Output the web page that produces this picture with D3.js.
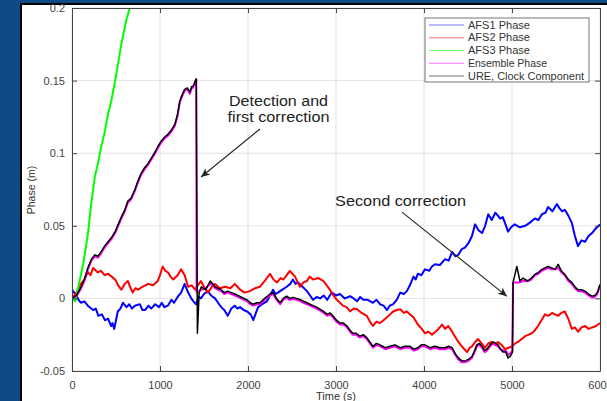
<!DOCTYPE html>
<html><head><meta charset="utf-8">
<script src="https://cdn.jsdelivr.net/npm/d3@7"></script>
<style>
html,body{margin:0;padding:0;background:#0e4a86;overflow:hidden}
svg{display:block}
text{font-family:"Liberation Sans",Arial,sans-serif}
</style></head>
<body>
<svg id="chart" width="607" height="401"></svg>
<script>
// ---- data ----
const xTicks = [0, 1000, 2000, 3000, 4000, 5000, 6000];
const xTickLabels = ["0", "1000", "2000", "3000", "4000", "5000", "6000"];
const yTicks = [-0.05, 0, 0.05, 0.1, 0.15, 0.2];
const yTickLabels = ["-0.05", "0", "0.05", "0.1", "0.15", "0.2"];
const seriesNames = ["AFS1 Phase", "AFS2 Phase", "AFS3 Phase", "Ensemble Phase", "URE, Clock Component"];
const seriesColors = ["#0000ff", "#ff0000", "#00ff00", "#ff00ff", "#000000"];

// [time (s), phase (m)]
const afs1 = [[0,0.006],[25,0.004],[50,0.002],[75,-0.001],[100,-0.003],[140,-0.002],[180,-0.005],[240,-0.008],[270,-0.007],[300,-0.012],[340,-0.011],[375,-0.015],[410,-0.014],[445,-0.019],[460,-0.017],[480,-0.021],[500,-0.015],[520,-0.009],[550,-0.007],[580,-0.003],[620,-0.006],[650,-0.004],[680,-0.007],[715,-0.005],[770,-0.004],[800,-0.008],[830,-0.008],[870,-0.005],[900,-0.007],[945,-0.004],[990,-0.006],[1020,-0.003],[1050,-0.006],[1090,-0.005],[1130,-0.001],[1160,-0.003],[1200,0.001],[1240,0.004],[1280,0.010],[1320,0.004],[1355,0.000],[1380,-0.002],[1410,-0.004],[1440,0.001],[1465,0.000],[1500,0.003],[1545,0.005],[1580,0.002],[1625,0.000],[1660,-0.003],[1695,-0.006],[1730,-0.008],[1770,-0.012],[1810,-0.007],[1850,-0.005],[1880,-0.007],[1910,-0.006],[1950,-0.008],[1990,-0.009],[2030,-0.011],[2060,-0.015],[2090,-0.010],[2115,-0.006],[2160,-0.004],[2215,-0.002],[2250,0.002],[2285,0.006],[2310,0.003],[2340,0.004],[2390,0.006],[2440,0.008],[2480,0.010],[2510,0.013],[2540,0.010],[2570,0.011],[2620,0.008],[2670,0.005],[2705,0.002],[2740,-0.001],[2780,0.001],[2820,0.000],[2860,0.002],[2900,-0.001],[2930,0.002],[2955,0.004],[3000,0.002],[3045,0.003],[3100,0.000],[3160,0.0015],[3200,0.000],[3240,-0.002],[3275,0.001],[3310,-0.001],[3360,-0.001],[3420,-0.003],[3460,-0.001],[3500,-0.004],[3540,-0.005],[3580,-0.008],[3610,-0.005],[3650,-0.004],[3690,-0.001],[3730,0.004],[3770,0.003],[3805,0.005],[3840,0.009],[3880,0.015],[3905,0.013],[3930,0.017],[3970,0.016],[4010,0.020],[4060,0.019],[4090,0.022],[4125,0.0235],[4180,0.023],[4240,0.027],[4280,0.026],[4320,0.032],[4355,0.029],[4390,0.030],[4430,0.034],[4465,0.035],[4505,0.038],[4545,0.043],[4580,0.051],[4620,0.047],[4660,0.045],[4695,0.050],[4730,0.058],[4770,0.054],[4810,0.059],[4840,0.057],[4865,0.055],[4895,0.056],[4920,0.052],[4955,0.046],[4990,0.049],[5030,0.051],[5090,0.049],[5150,0.050],[5200,0.052],[5260,0.055],[5300,0.054],[5340,0.058],[5380,0.059],[5410,0.063],[5460,0.060],[5510,0.065],[5540,0.062],[5570,0.060],[5600,0.061],[5640,0.057],[5680,0.052],[5715,0.043],[5750,0.036],[5790,0.040],[5830,0.039],[5870,0.043],[5910,0.045],[5950,0.048],[6000,0.051]];

const afs2 = [[0,0],[50,0.004],[100,0.010],[140,0.013],[180,0.018],[210,0.016],[240,0.021],[290,0.018],[330,0.019],[370,0.016],[410,0.017],[450,0.015],[490,0.013],[525,0.009],[560,0.006],[600,0.010],[635,0.012],[660,0.008],[690,0.004],[720,0.007],[750,0.006],[800,0.008],[865,0.010],[920,0.009],[975,0.012],[1000,0.016],[1030,0.022],[1060,0.019],[1090,0.018],[1120,0.015],[1150,0.013],[1200,0.016],[1240,0.020],[1280,0.016],[1320,0.008],[1360,0.009],[1400,0.006],[1430,0.009],[1465,0.012],[1500,0.008],[1545,0.004],[1590,0.008],[1625,0.010],[1680,0.007],[1740,0.008],[1800,0.007],[1850,0.010],[1880,0.008],[1910,0.006],[1960,0.004],[2020,0.005],[2080,0.007],[2135,0.008],[2190,0.012],[2250,0.017],[2290,0.013],[2330,0.011],[2370,0.014],[2400,0.013],[2440,0.016],[2475,0.019],[2505,0.017],[2535,0.015],[2565,0.011],[2590,0.008],[2630,0.011],[2670,0.012],[2700,0.015],[2740,0.013],[2800,0.014],[2855,0.012],[2895,0.009],[2930,0.006],[2970,0.002],[3010,-0.001],[3045,-0.003],[3080,-0.005],[3120,-0.006],[3160,-0.009],[3200,-0.007],[3240,-0.0075],[3290,-0.010],[3350,-0.012],[3385,-0.016],[3420,-0.019],[3460,-0.016],[3500,-0.017],[3540,-0.015],[3580,-0.013],[3615,-0.011],[3650,-0.009],[3690,-0.008],[3730,-0.0075],[3770,-0.010],[3805,-0.009],[3840,-0.011],[3880,-0.013],[3930,-0.018],[3975,-0.021],[4010,-0.024],[4050,-0.023],[4090,-0.025],[4150,-0.022],[4205,-0.018],[4240,-0.021],[4275,-0.019],[4310,-0.022],[4350,-0.026],[4390,-0.030],[4430,-0.033],[4460,-0.035],[4490,-0.037],[4520,-0.034],[4545,-0.033],[4580,-0.030],[4615,-0.028],[4655,-0.031],[4695,-0.034],[4730,-0.031],[4770,-0.030],[4805,-0.032],[4840,-0.030],[4880,-0.032],[4920,-0.035],[4960,-0.034],[5000,-0.033],[5035,-0.031],[5070,-0.030],[5110,-0.028],[5150,-0.026],[5190,-0.025],[5225,-0.024],[5260,-0.022],[5295,-0.019],[5335,-0.015],[5375,-0.011],[5415,-0.012],[5455,-0.010],[5490,-0.011],[5525,-0.012],[5560,-0.010],[5600,-0.009],[5640,-0.014],[5680,-0.021],[5715,-0.020],[5750,-0.023],[5790,-0.020],[5830,-0.019],[5870,-0.021],[5910,-0.020],[5955,-0.019],[6000,-0.017]];

const afs3 = [[0,0],[40,-0.002],[70,0.0075],[125,0.023],[180,0.044],[220,0.066],[260,0.084],[295,0.093],[330,0.104],[370,0.114],[410,0.127],[450,0.137],[490,0.150],[525,0.162],[560,0.175],[615,0.191],[660,0.201],[700,0.215]];

const ensemble = [[0,0],[50,0.0015],[100,0.0065],[140,0.012],[180,0.020],[220,0.026],[260,0.029],[295,0.028],[330,0.031],[370,0.035],[410,0.038],[450,0.041],[490,0.045],[525,0.050],[560,0.055],[600,0.060],[635,0.066],[670,0.068],[715,0.074],[750,0.080],[785,0.085],[825,0.089],[865,0.092],[905,0.096],[945,0.100],[980,0.104],[1010,0.107],[1050,0.110],[1090,0.112],[1130,0.115],[1170,0.119],[1200,0.126],[1225,0.135],[1250,0.139],[1280,0.143],[1310,0.144],[1340,0.141],[1360,0.145],[1375,0.145],[1395,0.148],[1412,0.151],[1416,0.004],[1445,0.005],[1470,0.006],[1520,0.007],[1570,0.010],[1600,0.009],[1625,0.007],[1660,0.006],[1695,0.005],[1730,0.003],[1770,0.004],[1810,0.003],[1850,0.002],[1885,0.001],[1920,0.000],[1955,-0.001],[1990,-0.002],[2025,-0.004],[2060,-0.005],[2100,-0.004],[2135,-0.004],[2190,-0.001],[2250,0.002],[2285,0.003],[2325,-0.001],[2365,-0.004],[2400,-0.001],[2440,0.0005],[2475,-0.001],[2510,-0.0003],[2550,-0.001],[2590,-0.0017],[2630,-0.003],[2670,-0.004],[2705,-0.005],[2740,-0.006],[2780,-0.007],[2820,-0.0085],[2860,-0.010],[2900,-0.012],[2930,-0.011],[2965,-0.013],[3005,-0.016],[3045,-0.018],[3085,-0.018],[3125,-0.020],[3160,-0.023],[3190,-0.025],[3230,-0.025],[3270,-0.027],[3310,-0.026],[3350,-0.028],[3385,-0.031],[3420,-0.034],[3460,-0.032],[3500,-0.033],[3560,-0.035],[3615,-0.034],[3670,-0.033],[3730,-0.035],[3785,-0.034],[3840,-0.034],[3885,-0.036],[3930,-0.035],[3970,-0.033],[4010,-0.033],[4070,-0.035],[4125,-0.034],[4180,-0.035],[4240,-0.035],[4280,-0.034],[4320,-0.035],[4355,-0.039],[4390,-0.042],[4430,-0.044],[4465,-0.044],[4505,-0.043],[4545,-0.041],[4575,-0.037],[4600,-0.033],[4630,-0.032],[4660,-0.034],[4690,-0.037],[4715,-0.036],[4750,-0.033],[4785,-0.031],[4815,-0.032],[4840,-0.033],[4870,-0.035],[4900,-0.036],[4930,-0.036],[4955,-0.039],[4980,-0.038],[5005,-0.036],[5012,0.011],[5055,0.011],[5090,0.011],[5125,0.012],[5150,0.012],[5180,0.012],[5220,0.013],[5260,0.016],[5300,0.017],[5340,0.019],[5375,0.020],[5410,0.021],[5450,0.020],[5490,0.020],[5525,0.021],[5560,0.018],[5600,0.016],[5640,0.012],[5680,0.010],[5715,0.007],[5750,0.005],[5790,0.005],[5830,0.004],[5870,0.002],[5910,0.0005],[5940,0.001],[5970,0.003],[6000,0.009]];

const ure = [[0,0],[50,0.002],[100,0.0075],[140,0.013],[180,0.021],[220,0.027],[260,0.030],[295,0.029],[330,0.032],[370,0.036],[410,0.039],[450,0.042],[490,0.046],[525,0.051],[560,0.056],[600,0.061],[635,0.067],[670,0.069],[715,0.075],[750,0.081],[785,0.086],[825,0.090],[865,0.093],[905,0.097],[945,0.101],[980,0.105],[1010,0.108],[1050,0.111],[1090,0.113],[1130,0.116],[1170,0.120],[1200,0.127],[1225,0.136],[1250,0.140],[1280,0.144],[1310,0.145],[1340,0.142],[1360,0.146],[1375,0.146],[1395,0.149],[1412,0.151],[1425,-0.024],[1445,0.004],[1470,0.008],[1520,0.006],[1570,0.012],[1600,0.010],[1625,0.008],[1660,0.007],[1695,0.006],[1730,0.004],[1770,0.005],[1810,0.004],[1850,0.003],[1885,0.002],[1920,0.001],[1955,0.000],[1990,-0.001],[2025,-0.003],[2060,-0.004],[2100,-0.003],[2135,-0.003],[2190,0.000],[2250,0.003],[2285,0.004],[2325,0.000],[2365,-0.003],[2400,0.000],[2440,0.0015],[2475,0.000],[2510,0.0007],[2550,0.000],[2590,-0.0007],[2630,-0.002],[2670,-0.003],[2705,-0.004],[2740,-0.005],[2780,-0.006],[2820,-0.0075],[2860,-0.009],[2900,-0.011],[2930,-0.010],[2965,-0.012],[3005,-0.015],[3045,-0.017],[3085,-0.017],[3125,-0.019],[3160,-0.022],[3190,-0.024],[3230,-0.024],[3270,-0.026],[3310,-0.025],[3350,-0.027],[3385,-0.030],[3420,-0.033],[3460,-0.031],[3500,-0.032],[3560,-0.034],[3615,-0.033],[3670,-0.032],[3730,-0.034],[3785,-0.033],[3840,-0.033],[3885,-0.035],[3930,-0.034],[3970,-0.032],[4010,-0.032],[4070,-0.034],[4125,-0.033],[4180,-0.034],[4240,-0.034],[4280,-0.033],[4320,-0.034],[4355,-0.038],[4390,-0.041],[4430,-0.043],[4465,-0.043],[4505,-0.042],[4545,-0.040],[4575,-0.036],[4600,-0.032],[4630,-0.031],[4660,-0.033],[4690,-0.036],[4715,-0.035],[4750,-0.032],[4785,-0.030],[4815,-0.031],[4840,-0.032],[4870,-0.035],[4900,-0.037],[4930,-0.037],[4955,-0.041],[4980,-0.040],[5005,-0.037],[5012,0.011],[5055,0.022],[5090,0.012],[5125,0.014],[5150,0.013],[5180,0.012],[5220,0.014],[5260,0.0165],[5300,0.018],[5340,0.020],[5375,0.021],[5410,0.022],[5450,0.021],[5490,0.020],[5525,0.0235],[5560,0.019],[5600,0.0165],[5640,0.013],[5680,0.011],[5715,0.008],[5750,0.006],[5790,0.006],[5830,0.005],[5870,0.003],[5910,0.0015],[5940,0.002],[5970,0.004],[6000,0.0095]];

// annotations, in data units
const annoLabels = ["Detection and", "first correction", "Second correction"];
const annoTextPos = [[2347, 0.1326], [2347, 0.1215], [2990, 0.0635]];
const annoArrows = [[[2136, 0.1167], [1466, 0.0836]], [[3750, 0.0594], [4943, 0.0014]]];

// ---- drawing ----
const svg = d3.select("#chart");
const W = 607, H = 401;
const pLeft = 72, pRight = 600, pTop = 8, pBottom = 371;
const x = d3.scaleLinear().domain([0, 6000]).range([pLeft, pRight]);
const y = d3.scaleLinear().domain([-0.05, 0.2]).range([pBottom, pTop]);

// panel
svg.append("rect").attr("x", 0).attr("y", 0).attr("width", W).attr("height", H).attr("fill", "#0e4a86");
svg.append("rect").attr("x", 21).attr("y", 4).attr("width", 620).attr("height", 420)
  .attr("fill", "#fff").attr("stroke", "#000").attr("stroke-width", 2);

// grid
const grid = svg.append("g");
grid.selectAll(".gx").data(xTicks).join("line")
  .attr("x1", d => x(d)).attr("x2", d => x(d)).attr("y1", pTop).attr("y2", pBottom)
  .attr("stroke", "#e3e3e3").attr("stroke-width", 1);
grid.selectAll(".gy").data(yTicks).join("line")
  .attr("y1", d => y(d)).attr("y2", d => y(d)).attr("x1", pLeft).attr("x2", pRight)
  .attr("stroke", "#e3e3e3").attr("stroke-width", 1);

// clip
svg.append("clipPath").attr("id", "clip").append("rect")
  .attr("x", pLeft).attr("y", pTop).attr("width", pRight - pLeft).attr("height", pBottom - pTop);

const series = [afs1, afs2, afs3, ensemble, ure];
const line = d3.line().x(d => x(d[0])).y(d => y(d[1]));
const plot = svg.append("g").attr("clip-path", "url(#clip)");
series.forEach((s, i) => {
  plot.append("path").datum(s).attr("d", line)
    .attr("fill", "none").attr("stroke", seriesColors[i])
    .attr("stroke-width", i === 4 ? 1.5 : 2).attr("stroke-linejoin", "round");
});

// axes
const axCol = "#444";
const gB = svg.append("g").attr("transform", `translate(0,${pBottom})`)
  .call(d3.axisBottom(x).tickValues(xTicks).tickFormat((d, i) => xTickLabels[i]).tickSizeInner(-5).tickSizeOuter(0).tickPadding(10));
const gT = svg.append("g").attr("transform", `translate(0,${pTop})`)
  .call(d3.axisTop(x).tickValues(xTicks).tickFormat("").tickSizeInner(-5).tickSizeOuter(0));
const gL = svg.append("g").attr("transform", `translate(${pLeft},0)`)
  .call(d3.axisLeft(y).tickValues(yTicks).tickFormat((d, i) => yTickLabels[i]).tickSizeInner(-5).tickSizeOuter(0).tickPadding(7));
const gR = svg.append("g").attr("transform", `translate(${pRight},0)`)
  .call(d3.axisRight(y).tickValues(yTicks).tickFormat("").tickSizeInner(-5).tickSizeOuter(0));
[gB, gT, gL, gR].forEach(g => {
  g.select(".domain").attr("stroke", axCol).attr("stroke-width", 1);
  g.selectAll(".tick line").attr("stroke", axCol);
  g.selectAll("text").attr("fill", "#444").style("font-size", "11px").style("font-family", "'Liberation Sans',Arial,sans-serif");
});

// axis titles
svg.append("text").attr("x", 336).attr("y", 400).attr("text-anchor", "middle")
  .attr("fill", "#333").style("font-size", "11px").text("Time (s)");
svg.append("text").attr("transform", "translate(35,190) rotate(-90)").attr("text-anchor", "middle")
  .attr("fill", "#333").style("font-size", "10.5px").text("Phase (m)");

// legend
const lg = svg.append("g");
lg.append("rect").attr("x", 425).attr("y", 18).attr("width", 164).attr("height", 64)
  .attr("fill", "#fff").attr("stroke", "#777").attr("stroke-width", 1);
seriesNames.forEach((n, i) => {
  const yy = 25 + i * 12.75;
  lg.append("line").attr("x1", 429).attr("x2", 464).attr("y1", yy).attr("y2", yy)
    .attr("stroke", seriesColors[i]).attr("stroke-width", 1).attr("stroke-opacity", 0.55);
  lg.append("text").attr("x", 468).attr("y", yy + 3.5).attr("fill", "#333")
    .style("font-size", "10px").attr("textLength", [62, 62, 62, 79, 116][i]).attr("lengthAdjust", "spacingAndGlyphs").text(n);
});

// annotations
const defs = svg.append("defs");
defs.append("marker").attr("id", "ah").attr("viewBox", "-10 -5 12 10").attr("refX", 0).attr("refY", 0)
  .attr("markerWidth", 12).attr("markerHeight", 10).attr("markerUnits", "userSpaceOnUse").attr("orient", "auto")
  .append("path").attr("d", "M0,0 L-9,-4 L-6.5,0 L-9,4 Z").attr("fill", "#222");
annoArrows.forEach(a => {
  svg.append("line").attr("x1", x(a[0][0])).attr("y1", y(a[0][1])).attr("x2", x(a[1][0])).attr("y2", y(a[1][1]))
    .attr("stroke", "#222").attr("stroke-width", 1.1).attr("marker-end", "url(#ah)");
});
annoLabels.forEach((t, i) => {
  svg.append("text").attr("x", x(annoTextPos[i][0])).attr("y", y(annoTextPos[i][1]))
    .attr("text-anchor", i < 2 ? "middle" : "start").attr("fill", "#222")
    .style("font-size", "14px").attr("textLength", [99, 102, 131][i]).attr("lengthAdjust", "spacingAndGlyphs").text(t);
});
</script>
</body></html>
